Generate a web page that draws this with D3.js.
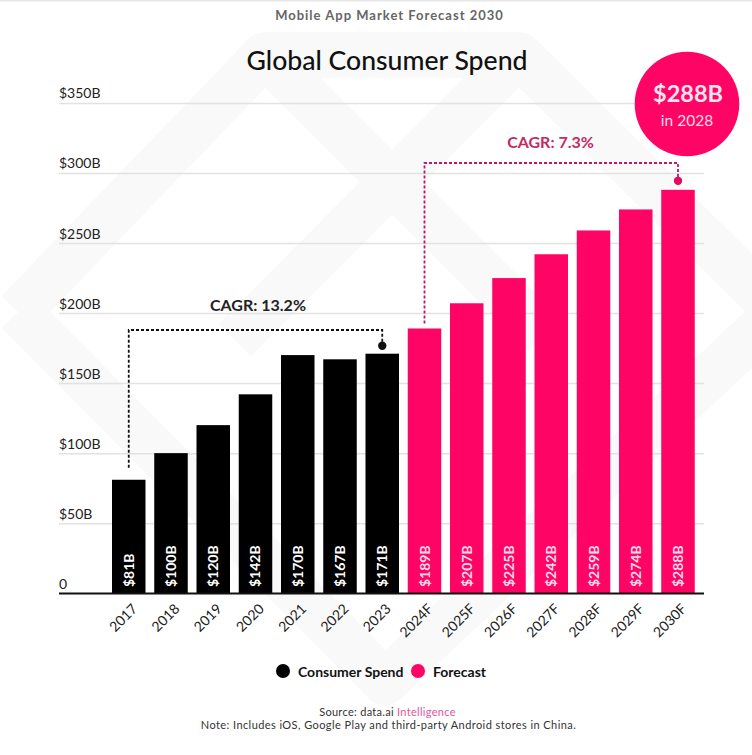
<!DOCTYPE html>
<html>
<head>
<meta charset="utf-8">
<script src="https://cdn.jsdelivr.net/npm/d3@7"></script>
<style>
  html, body { margin: 0; padding: 0; background: #fff; }
  svg { display: block; font-family: Lato, sans-serif; }
</style>
</head>
<body>
<svg id="chart" width="752" height="755"></svg>
<script>
const years = ['2017', '2018', '2019', '2020', '2021', '2022', '2023'];
const forecastYears = ['2024F', '2025F', '2026F', '2027F', '2028F', '2029F', '2030F'];
const spend = [81, 100, 120, 142, 170, 167, 171];
const forecast = [189, 207, 225, 242, 259, 274, 288];
const yTicks = [0, 50, 100, 150, 200, 250, 300, 350];
const legendItems = ['Consumer Spend', 'Forecast'];

const BLACK = '#000';
const PINK = '#fe0464';

const rows = years.map((d, i) => ({ cat: d, value: spend[i], color: BLACK, text: '#fff' }))
  .concat(forecastYears.map((d, i) => ({ cat: d, value: forecast[i], color: PINK, text: '#ffd9ea' })));

const svg = d3.select('#chart');

// faint strip along the top of the screenshot
svg.append('rect').attr('width', 752).attr('height', 1.5).attr('fill', '#e8e8e8');

// watermark behind everything
const watermark = [
  [[18, 312], [265, 55], [519, 55], [778, 312], [385, 682], [18, 312]],
  [[265, 55], [545, 335]],
  [[519, 55], [235, 340]]
];
svg.append('g').selectAll('path')
  .data(watermark)
  .join('path')
    .attr('d', d3.line())
    .attr('fill', 'none')
    .attr('stroke', '#f9f9f9')
    .attr('stroke-width', 46)
    .attr('stroke-linejoin', 'round');

const x = d3.scaleBand()
  .domain(rows.map(d => d.cat))
  .range([103.25, 703.5])
  .paddingInner(0.207)
  .paddingOuter(0.207);

const y = d3.scaleLinear()
  .domain([0, 350])
  .range([593.2, 103]);

// y axis: labels sit left aligned on top of each gridline
const yAxis = svg.append('g')
  .attr('transform', 'translate(59,0)')
  .call(d3.axisRight(y)
    .tickValues(yTicks)
    .tickSize(645)
    .tickFormat(d => d === 0 ? '0' : `$${d}B`));
yAxis.select('.domain').remove();
yAxis.selectAll('line')
  .attr('stroke', d => d === 0 ? '#111' : '#e2e2e2')
  .attr('stroke-width', 1.5);
yAxis.selectAll('text')
  .attr('x', 0)
  .attr('dy', '-0.36em')
  .attr('text-anchor', 'start')
  .attr('fill', '#222')
  .attr('font-size', 14)
  .style('font-family', 'Lato, sans-serif');

// bars
svg.append('g').selectAll('rect')
  .data(rows)
  .join('rect')
    .attr('x', d => x(d.cat))
    .attr('y', d => y(d.value))
    .attr('width', x.bandwidth())
    .attr('height', d => y(0) - y(d.value))
    .attr('fill', d => d.color);

// baseline goes back on top of the bars
svg.append('line')
  .attr('x1', 59).attr('x2', 704)
  .attr('y1', y(0)).attr('y2', y(0))
  .attr('stroke', '#111').attr('stroke-width', 1.6);

// value labels inside the bars
const mid = d => x(d) + x.bandwidth() / 2;
svg.append('g').selectAll('text')
  .data(rows)
  .join('text')
    .attr('transform', d => `translate(${mid(d.cat) + 5},587) rotate(-90)`)
    .attr('fill', d => d.text)
    .attr('font-size', 14)
    .attr('font-weight', 700)
    .text(d => `$${d.value}B`);

// x axis
const xAxis = svg.append('g')
  .attr('transform', `translate(0,${y(0)})`)
  .call(d3.axisBottom(x).tickSize(0));
xAxis.select('.domain').remove();
xAxis.selectAll('text')
  .attr('transform', 'translate(6,13) rotate(-45)')
  .attr('x', 0).attr('y', 0).attr('dy', '0.35em')
  .attr('text-anchor', 'end')
  .attr('fill', '#222')
  .attr('font-size', 14)
  .style('font-family', 'Lato, sans-serif');

// CAGR brackets
function bracket(from, to, startGap, topY, endGap, line, dot, label, labelX, labelY) {
  const x0 = mid(from.cat), x1 = mid(to.cat);
  const path = d3.path();
  path.moveTo(x0, y(from.value) - startGap);
  path.lineTo(x0, topY);
  path.lineTo(x1, topY);
  path.lineTo(x1, y(to.value) - endGap);
  svg.append('path')
    .attr('d', path.toString())
    .attr('fill', 'none')
    .attr('stroke', line)
    .attr('stroke-width', 1.8)
    .attr('stroke-dasharray', '3 2');
  svg.append('circle')
    .attr('cx', x1).attr('cy', y(to.value) - endGap)
    .attr('r', 4.2)
    .attr('fill', dot);
  svg.append('text')
    .attr('x', labelX).attr('y', labelY)
    .attr('text-anchor', 'middle')
    .attr('fill', label.color)
    .attr('font-size', 16)
    .attr('font-weight', 700)
    .text(label.text);
}
bracket(rows[0], rows[6], 12, 330, 8, '#111', '#111', { text: 'CAGR: 13.2%', color: '#222' }, 258, 311);
bracket(rows[7], rows[13], 5, 163, 9, '#c4136a', '#e00b62', { text: 'CAGR: 7.3%', color: '#c42a63' }, 550.5, 148);

// callout
svg.append('circle').attr('cx', 687).attr('cy', 104).attr('r', 52.3).attr('fill', PINK);
svg.append('text').attr('x', 688).attr('y', 102)
  .attr('text-anchor', 'middle').attr('fill', '#ffe3ef')
  .attr('font-size', 23.5).attr('font-weight', 700).text('$288B');
svg.append('text').attr('x', 687).attr('y', 125.5)
  .attr('text-anchor', 'middle').attr('fill', '#ffd9ea')
  .attr('font-size', 15.5).text('in 2028');

// titles
svg.append('text').attr('x', 389.5).attr('y', 20)
  .attr('text-anchor', 'middle').attr('fill', '#666')
  .attr('font-size', 13).attr('font-weight', 700)
  .attr('letter-spacing', 1).text('Mobile App Market Forecast 2030');
svg.append('text').attr('x', 387).attr('y', 70)
  .attr('text-anchor', 'middle').attr('fill', '#111')
  .attr('font-size', 26.6).attr('font-weight', 500)
  .text('Global Consumer Spend');

// legend
const legendX = [283, 418];
const legend = svg.append('g').selectAll('g')
  .data(legendItems)
  .join('g')
    .attr('transform', (d, i) => `translate(${legendX[i]},671)`);
legend.append('circle').attr('r', 7).attr('fill', (d, i) => i === 0 ? BLACK : PINK);
legend.append('text')
  .attr('x', 15).attr('y', 5.5)
  .attr('fill', '#111')
  .attr('font-size', 14)
  .attr('font-weight', 700)
  .text(d => d);

// source + note
const source = svg.append('text').attr('x', 387.5).attr('y', 715.5)
  .attr('text-anchor', 'middle').attr('fill', '#333')
  .attr('font-size', 11).attr('letter-spacing', 0.3);
source.append('tspan').text('Source: data.ai ');
source.append('tspan').attr('fill', '#e2559a').text('Intelligence');
svg.append('text').attr('x', 388.5).attr('y', 729)
  .attr('text-anchor', 'middle').attr('fill', '#333')
  .attr('font-size', 11).attr('letter-spacing', 0.42)
  .text('Note: Includes iOS, Google Play and third-party Android stores in China.');
</script>
</body>
</html>
